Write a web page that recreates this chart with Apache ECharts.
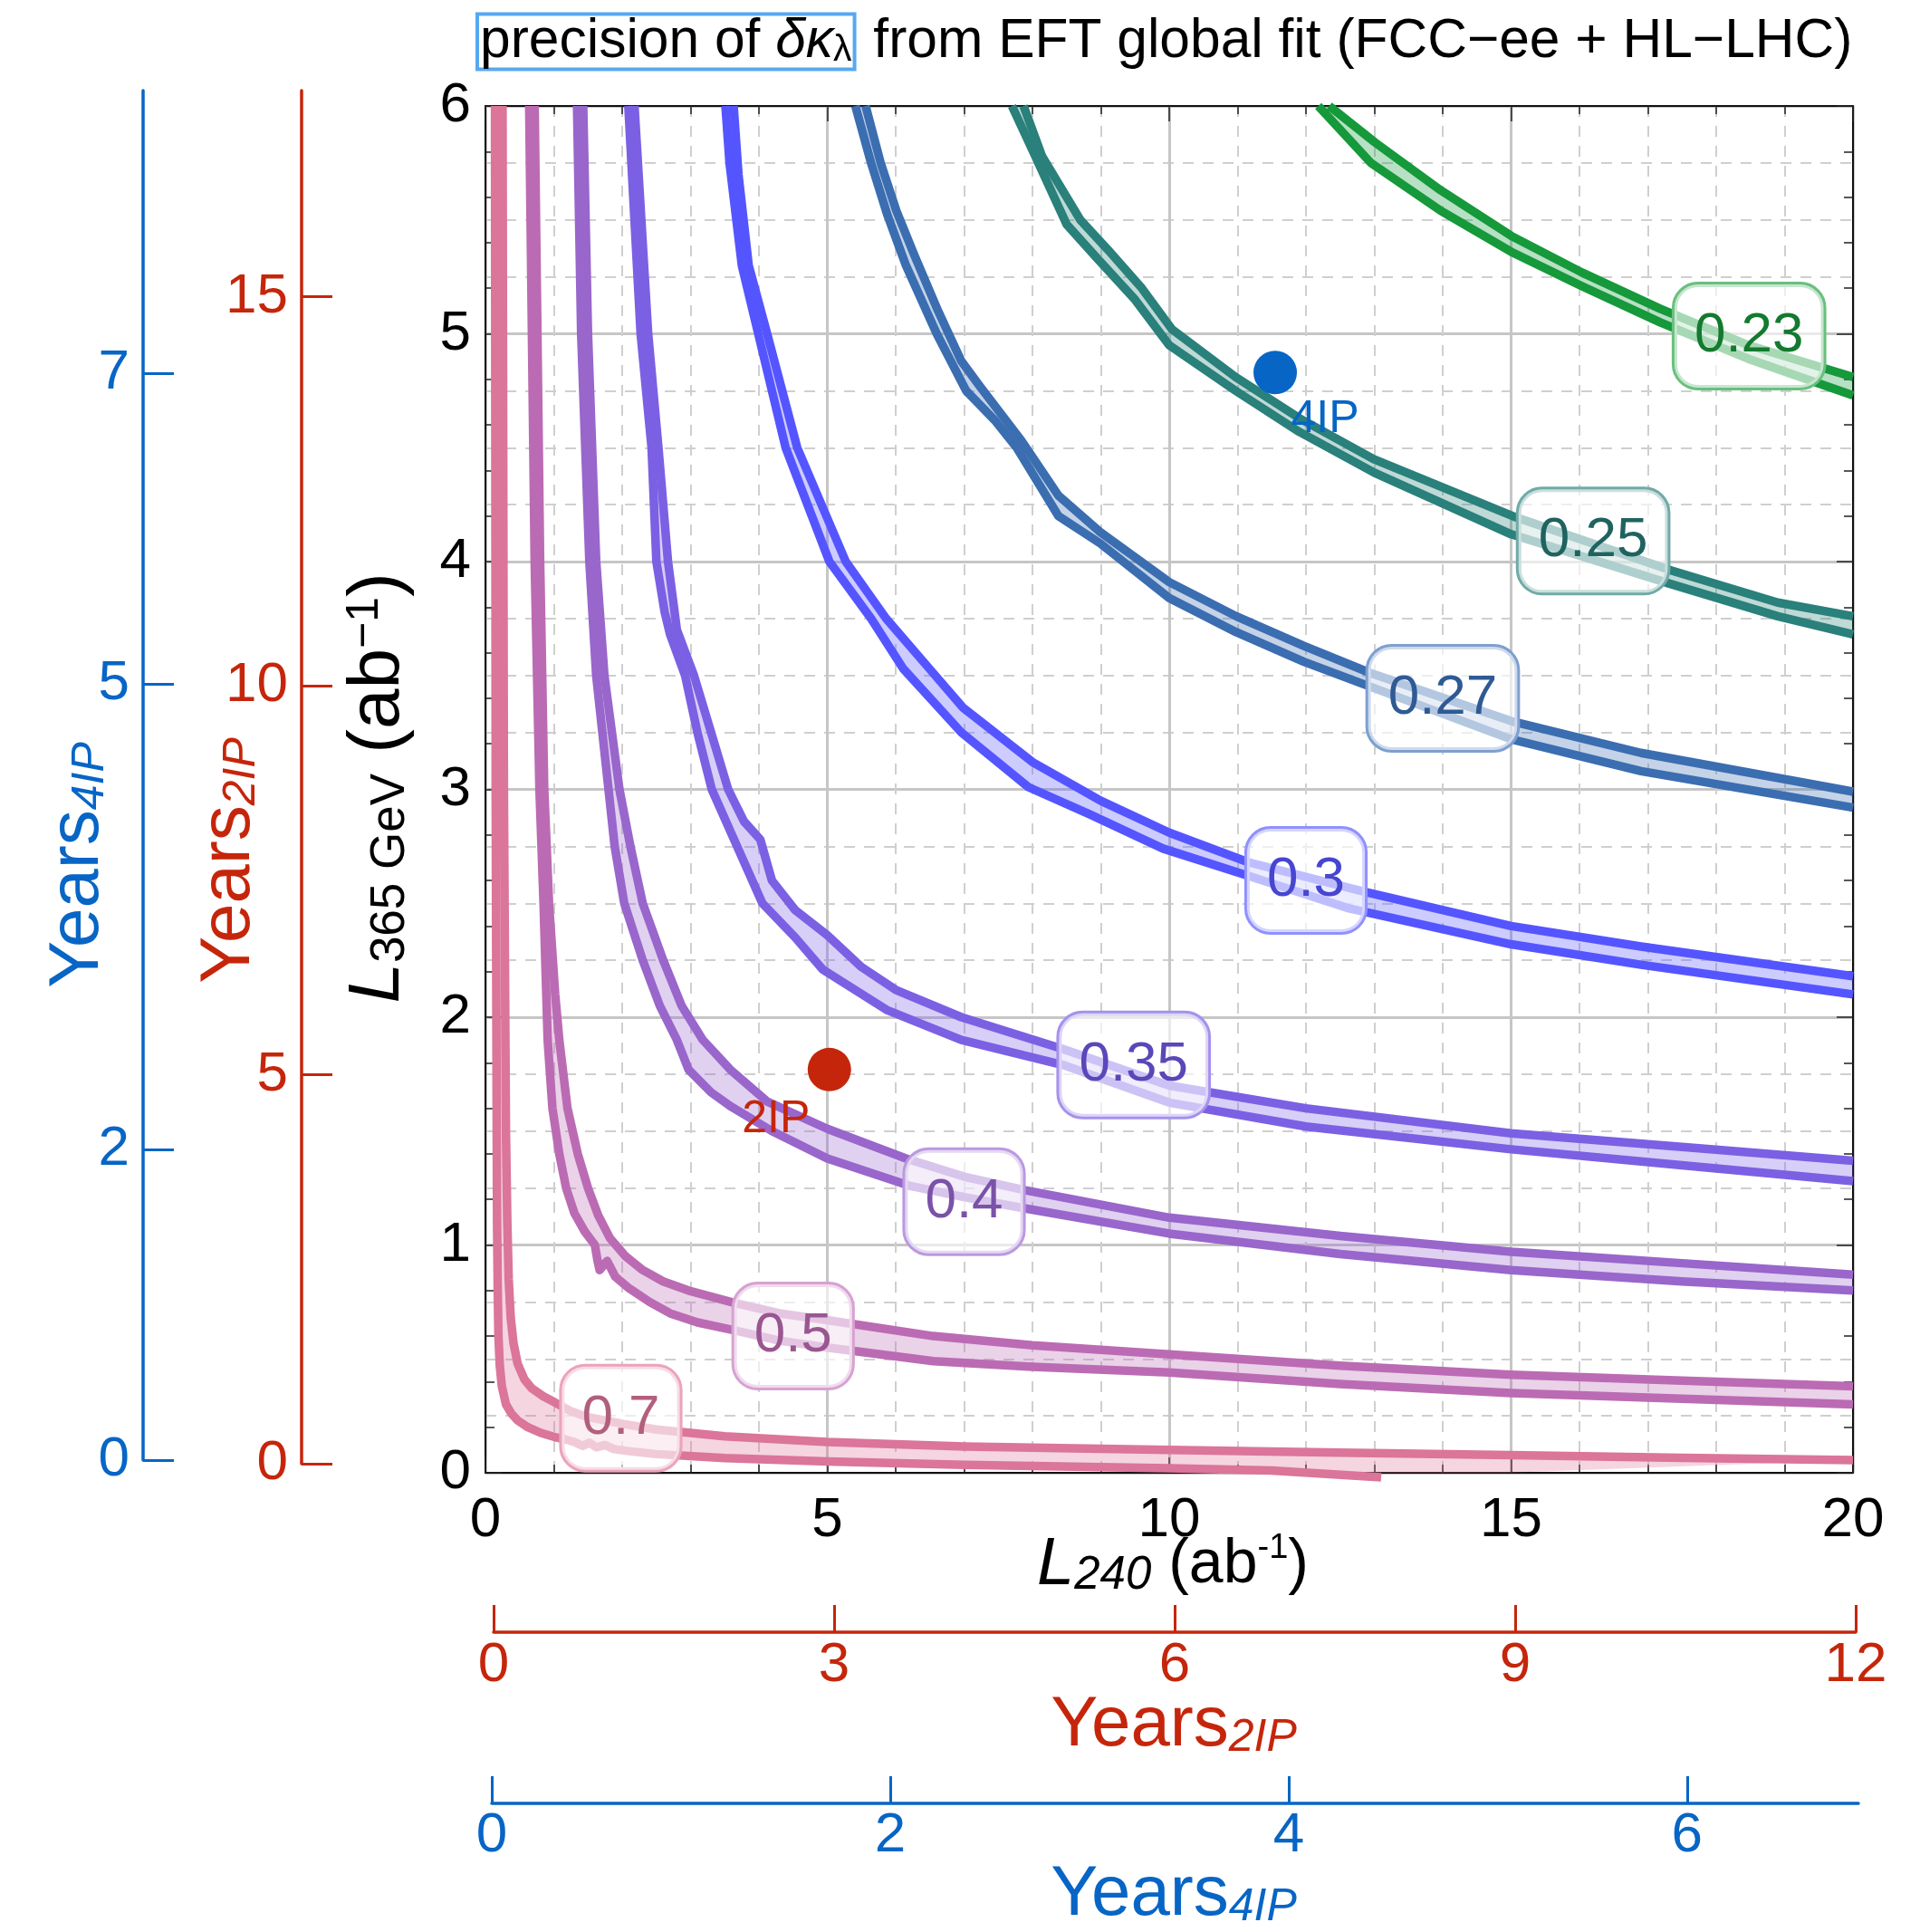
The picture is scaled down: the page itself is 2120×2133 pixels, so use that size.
<!DOCTYPE html>
<html>
<head>
<meta charset="utf-8">
<script src="https://cdn.jsdelivr.net/npm/echarts@6/dist/echarts.min.js"></script>
<style>
  html, body { margin: 0; padding: 0; background: #ffffff; }
  #chart { width: 2120px; height: 2133px; }
</style>
</head>
<body>
<div id="chart"></div>
<script>
// ---------------------------------------------------------------------------
// Data: iso-precision bands of delta kappa_lambda in the (L240, L365) plane.
// Every band has an upper/right edge and a lower/left edge, points are
// [L240 (ab^-1), L365 (ab^-1)].
// ---------------------------------------------------------------------------
const contourLevels = ['0.7', '0.5', '0.4', '0.35', '0.3', '0.27', '0.25', '0.23'];

const contour070Upper = [[0.25,6.0],[0.26,4.5],[0.27,3.0],[0.29,2.0],[0.30,1.5],[0.32,1.1],[0.34,0.85],[0.37,0.68],[0.41,0.57],[0.47,0.48],[0.57,0.41],[0.68,0.37],[0.85,0.335],[1.01,0.31],[1.25,0.27],[1.49,0.245],[2.0,0.215],[2.5,0.19],[3.5,0.16],[5.0,0.135],[7.0,0.115],[10.0,0.10],[12.5,0.088],[15.0,0.078],[17.5,0.066],[20.0,0.056]];
const contour070Lower = [[0.14,6.0],[0.145,4.5],[0.15,3.0],[0.16,2.0],[0.165,1.5],[0.17,1.1],[0.18,0.8],[0.19,0.6],[0.21,0.47],[0.24,0.38],[0.30,0.30],[0.38,0.26],[0.47,0.23],[0.62,0.20],[0.81,0.175],[1.0,0.158],[1.15,0.148],[1.3,0.135],[1.42,0.118],[1.52,0.132],[1.62,0.112],[1.75,0.122],[1.88,0.104],[2.1,0.095],[2.5,0.082],[3.5,0.065],[5.0,0.05],[7.0,0.035],[10.0,0.02],[11.5,0.01],[13.1,-0.02]];

const contour050Upper = [[0.72,6.0],[0.76,5.0],[0.80,4.0],[0.86,3.0],[0.93,2.5],[1.02,2.1],[1.08,1.9],[1.2,1.6],[1.35,1.4],[1.5,1.25],[1.65,1.13],[1.82,1.03],[2.05,0.95],[2.3,0.89],[2.6,0.84],[2.97,0.80],[3.65,0.745],[4.3,0.70],[5.0,0.67],[6.55,0.60],[8.0,0.56],[10.0,0.52],[12.5,0.47],[15.0,0.43],[17.5,0.405],[20.0,0.38]];
const contour050Lower = [[0.64,6.0],[0.68,5.0],[0.72,4.0],[0.79,3.0],[0.85,2.5],[0.88,2.2],[0.91,1.9],[0.98,1.6],[1.08,1.4],[1.18,1.25],[1.30,1.14],[1.45,1.06],[1.60,1.0],[1.64,0.93],[1.67,0.89],[1.78,0.93],[1.90,0.86],[2.1,0.81],[2.4,0.75],[2.7,0.70],[3.1,0.66],[3.65,0.625],[4.3,0.58],[5.0,0.55],[6.55,0.49],[8.0,0.465],[10.0,0.44],[12.5,0.39],[15.0,0.35],[17.5,0.325],[20.0,0.30]];

const contour040Upper = [[1.43,6.0],[1.50,5.0],[1.62,4.0],[1.74,3.5],[1.96,3.0],[2.12,2.75],[2.30,2.5],[2.60,2.25],[2.87,2.05],[3.18,1.90],[3.58,1.77],[4.12,1.63],[5.0,1.51],[6.15,1.38],[7.0,1.30],[7.9,1.24],[10.0,1.12],[12.5,1.04],[15.0,0.97],[17.5,0.92],[20.0,0.87]];
const contour040Lower = [[1.34,6.0],[1.40,5.0],[1.52,4.0],[1.62,3.5],[1.80,3.0],[1.89,2.75],[2.03,2.5],[2.30,2.25],[2.55,2.05],[2.80,1.90],[2.97,1.77],[3.3,1.67],[3.58,1.61],[4.19,1.50],[5.0,1.38],[6.2,1.26],[7.0,1.21],[7.9,1.16],[10.0,1.05],[12.5,0.96],[15.0,0.89],[17.5,0.84],[20.0,0.80]];

const contour035Upper = [[2.18,6.0],[2.28,5.5],[2.38,5.0],[2.53,4.5],[2.67,4.0],[2.80,3.7],[3.05,3.5],[3.30,3.25],[3.55,3.0],[3.78,2.86],[4.02,2.78],[4.19,2.60],[4.53,2.47],[5.0,2.36],[5.5,2.22],[6.0,2.12],[6.96,2.0],[8.45,1.86],[10.0,1.70],[12.0,1.60],[15.0,1.49],[17.5,1.43],[20.0,1.37]];
const contour035Lower = [[2.09,6.0],[2.18,5.5],[2.27,5.0],[2.43,4.5],[2.50,4.0],[2.62,3.78],[2.70,3.68],[2.92,3.5],[3.10,3.25],[3.31,3.0],[3.68,2.75],[4.05,2.50],[4.53,2.35],[4.93,2.21],[5.88,2.03],[6.96,1.90],[8.45,1.79],[10.0,1.625],[12.0,1.52],[15.0,1.42],[17.5,1.35],[20.0,1.28]];

const contour030Upper = [[3.63,6.0],[3.70,5.7],[3.85,5.3],[4.12,5.0],[4.56,4.5],[5.27,4.0],[5.86,3.75],[6.55,3.51],[6.98,3.36],[8.0,3.12],[9.0,2.95],[10.0,2.81],[11.16,2.68],[12.86,2.55],[15.0,2.40],[16.9,2.31],[20.0,2.18]];
const contour030Lower = [[3.51,6.0],[3.57,5.75],[3.75,5.3],[3.99,5.0],[4.39,4.5],[5.03,4.0],[5.64,3.75],[6.11,3.53],[6.96,3.25],[7.94,3.01],[8.84,2.89],[9.91,2.74],[11.16,2.62],[12.6,2.48],[15.0,2.32],[16.9,2.23],[20.0,2.10]];

const contour027Upper = [[5.56,6.0],[5.78,5.75],[6.01,5.54],[6.28,5.34],[6.62,5.1],[6.96,4.88],[7.23,4.77],[7.84,4.53],[8.38,4.29],[8.99,4.13],[10.0,3.91],[10.98,3.76],[11.97,3.63],[12.95,3.51],[15.0,3.30],[16.9,3.16],[20.0,2.99]];
const contour027Lower = [[5.41,6.0],[5.64,5.75],[5.88,5.52],[6.15,5.30],[6.6,5.0],[7.03,4.75],[7.45,4.62],[7.77,4.50],[8.38,4.20],[8.99,4.08],[10.0,3.84],[10.98,3.69],[11.97,3.56],[12.95,3.45],[15.0,3.22],[16.9,3.08],[20.0,2.92]];

const contour025Upper = [[7.87,6.0],[8.14,5.78],[8.70,5.50],[9.10,5.37],[9.60,5.20],[10.04,5.02],[10.97,4.81],[11.9,4.63],[12.99,4.45],[15.02,4.20],[17.35,3.96],[18.9,3.82],[20.0,3.76]];
const contour025Lower = [[7.70,6.0],[8.04,5.78],[8.50,5.48],[8.95,5.33],[9.50,5.15],[10.0,4.95],[10.97,4.75],[11.9,4.57],[13.0,4.39],[15.0,4.12],[17.35,3.90],[18.9,3.76],[20.0,3.68]];

const contour023Upper = [[12.34,6.0],[13.01,5.84],[13.97,5.63],[15.0,5.43],[16.03,5.27],[17.18,5.11],[18.47,4.95],[20.0,4.81]];
const contour023Lower = [[12.18,6.0],[12.95,5.75],[13.97,5.54],[15.0,5.36],[16.03,5.21],[17.18,5.05],[18.47,4.89],[20.0,4.73]];

// Run scenarios: [L240, L365]
const scenario2IP = [5.03, 1.77];
const scenario4IP = [11.55, 4.83];

// Tick labels
const l240Ticks = [0, 5, 10, 15, 20];
const l365Ticks = [0, 1, 2, 3, 4, 5, 6];
const years2IPLeftTicks = [0, 5, 10, 15];
const years4IPLeftTicks = [0, 2, 5, 7];
const years2IPBottomTicks = [0, 3, 6, 9, 12];
const years4IPBottomTicks = [0, 2, 4, 6];

// ---------------------------------------------------------------------------
// Styling
// ---------------------------------------------------------------------------
const FONT = '"Liberation Sans", Arial, Helvetica, sans-serif';
const RED = '#c5260b';
const BLUE = '#0765c5';
const GRID_SOLID = '#c6c6c6';
const GRID_DASH = '#cfcfcf';
const TICK_COLOR = '#222222';
const EDGE_WIDTH = 9.5;

const bands = [
  { upper: contour070Upper, lower: contour070Lower },
  { upper: contour050Upper, lower: contour050Lower },
  { upper: contour040Upper, lower: contour040Lower },
  { upper: contour035Upper, lower: contour035Lower },
  { upper: contour030Upper, lower: contour030Lower },
  { upper: contour027Upper, lower: contour027Lower },
  { upper: contour025Upper, lower: contour025Lower },
  { upper: contour023Upper, lower: contour023Lower }
];
const lineColors = ['#db7599', '#bb6bb3', '#9966cc', '#7b60e4', '#5555ff', '#3b6db1', '#2a807b', '#15993a'];
const textColors = ['#b25f7e', '#9a5690', '#7a52a8', '#5a47b8', '#4646d0', '#2f5a94', '#1f6360', '#137a2e'];
const boxColors  = ['#eba3bd', '#d7a2d1', '#bb99e0', '#a592ec', '#9090ff', '#7f9fcf', '#71aaa7', '#6abf7f'];
// where each level tag sits along its band (axis units)
const levelTagAt = [[1.98,0.24],[4.5,0.60],[7.0,1.19],[9.48,1.79],[12.0,2.60],[14.0,3.40],[16.2,4.09],[18.48,4.99]];

const series = [];

bands.forEach(function (band, i) {
  // translucent fill between the two edges
  series.push({
    type: 'custom',
    xAxisIndex: 0, yAxisIndex: 0,
    z: 2, silent: true, clip: true,
    data: [0],
    renderItem: function (params, api) {
      const pts = band.upper.concat(band.lower.slice().reverse()).map(function (p) { return api.coord(p); });
      return { type: 'polygon', shape: { points: pts }, style: { fill: lineColors[i], opacity: 0.3 } };
    }
  });
  // the two edges
  [band.upper, band.lower].forEach(function (edge) {
    series.push({
      type: 'line',
      xAxisIndex: 0, yAxisIndex: 0,
      z: 3, silent: true, clip: false,
      data: edge,
      symbol: 'none', showSymbol: false, smooth: false,
      lineStyle: { color: lineColors[i], width: EDGE_WIDTH, cap: 'butt', join: 'round', opacity: 1 }
    });
  });
});

// level tags
series.push({
  type: 'scatter',
  xAxisIndex: 0, yAxisIndex: 0,
  z: 6, silent: true,
  symbolSize: 0,
  itemStyle: { color: 'rgba(0,0,0,0)', opacity: 1 },
  data: contourLevels.map(function (lv, i) {
    return {
      value: levelTagAt[i],
      label: {
        show: true, position: 'inside', formatter: lv,
        fontFamily: FONT, fontSize: 62, color: textColors[i],
        backgroundColor: 'rgba(255,255,255,0.62)',
        borderColor: boxColors[i], borderWidth: 3, borderRadius: 26,
        padding: [27, 22, 25, 22]
      }
    };
  })
});

// run scenarios
series.push({
  type: 'scatter',
  xAxisIndex: 0, yAxisIndex: 0,
  z: 8, silent: true,
  symbolSize: 48,
  itemStyle: { opacity: 1 },
  data: [
    { value: scenario2IP, itemStyle: { color: RED, opacity: 1 },
      label: { show: true, formatter: '2IP', position: 'inside', offset: [-59, 55], color: RED, fontSize: 50, fontFamily: FONT } },
    { value: scenario4IP, itemStyle: { color: BLUE, opacity: 1 },
      label: { show: true, formatter: '4IP', position: 'inside', offset: [55, 52], color: BLUE, fontSize: 50, fontFamily: FONT } }
  ]
});

// ---------------------------------------------------------------------------
// Axes
// ---------------------------------------------------------------------------
function hiddenAxis(gridIndex) {
  return { type: 'value', gridIndex: gridIndex, show: false, min: 0, max: 1 };
}
const labelBase = { fontFamily: FONT, fontSize: 62, color: '#000' };

const xAxis = [
  { // main L240 axis (bottom)
    type: 'value', gridIndex: 0, position: 'bottom', min: 0, max: 20, interval: 5,
    axisLine: { show: true, onZero: false, lineStyle: { color: '#111', width: 2 } },
    axisTick: { show: true, inside: true, length: 17, lineStyle: { color: TICK_COLOR, width: 1.5 } },
    minorTick: { show: true, splitNumber: 5, length: 9, lineStyle: { color: TICK_COLOR, width: 1.5 } },
    axisLabel: Object.assign({ margin: 22, customValues: l240Ticks }, labelBase),
    splitLine: { show: true, lineStyle: { color: GRID_SOLID, width: 3 } },
    minorSplitLine: { show: true, lineStyle: { color: GRID_DASH, width: 2, type: [12, 10] } }
  },
  { // frame top
    type: 'value', gridIndex: 1, position: 'top', min: 0, max: 20, interval: 5,
    axisLine: { show: true, onZero: false, lineStyle: { color: '#111', width: 2 } },
    axisTick: { show: true, inside: true, length: 17, lineStyle: { color: TICK_COLOR, width: 1.5 } },
    minorTick: { show: true, splitNumber: 5, length: 9, lineStyle: { color: TICK_COLOR, width: 1.5 } },
    axisLabel: { show: false }, splitLine: { show: false }
  },
  hiddenAxis(2),
  hiddenAxis(3),
  { // Years 2IP (bottom)
    type: 'value', gridIndex: 4, position: 'bottom', min: 0, max: 12,
    axisLine: { show: true, onZero: false, lineStyle: { color: RED, width: 3.5 } },
    axisTick: { show: true, inside: true, length: 30, customValues: years2IPBottomTicks, lineStyle: { color: RED, width: 3 } },
    axisLabel: { margin: 6, customValues: years2IPBottomTicks, fontFamily: FONT, fontSize: 62, color: RED },
    splitLine: { show: false }
  },
  { // Years 4IP (bottom)
    type: 'value', gridIndex: 5, position: 'bottom', min: 0, max: 6.86,
    axisLine: { show: true, onZero: false, lineStyle: { color: BLUE, width: 3.5 } },
    axisTick: { show: true, inside: true, length: 30, customValues: years4IPBottomTicks, lineStyle: { color: BLUE, width: 3 } },
    axisLabel: { margin: 5, customValues: years4IPBottomTicks, fontFamily: FONT, fontSize: 62, color: BLUE },
    splitLine: { show: false }
  }
];

const yAxis = [
  { // main L365 axis (left): labels and grid
    type: 'value', gridIndex: 0, position: 'left', min: 0, max: 6, interval: 1,
    axisLine: { show: true, onZero: false, lineStyle: { color: '#111', width: 2 } },
    axisTick: { show: false },
    minorTick: { show: false, splitNumber: 4 },
    axisLabel: Object.assign({ margin: 16, customValues: l365Ticks }, labelBase),
    splitLine: { show: true, lineStyle: { color: GRID_SOLID, width: 3 } },
    minorSplitLine: { show: true, lineStyle: { color: GRID_DASH, width: 2, type: [12, 10] } }
  },
  { // frame left ticks (0.2 steps)
    type: 'value', gridIndex: 1, position: 'left', min: 0, max: 6, interval: 1,
    axisLine: { show: false, onZero: false },
    axisTick: { show: true, inside: true, length: 18, lineStyle: { color: TICK_COLOR, width: 1.5 } },
    minorTick: { show: true, splitNumber: 5, length: 10, lineStyle: { color: TICK_COLOR, width: 1.5 } },
    axisLabel: { show: false }, splitLine: { show: false }
  },
  { // frame right
    type: 'value', gridIndex: 1, position: 'right', min: 0, max: 6, interval: 1,
    axisLine: { show: true, onZero: false, lineStyle: { color: '#111', width: 2 } },
    axisTick: { show: true, inside: true, length: 18, lineStyle: { color: TICK_COLOR, width: 1.5 } },
    minorTick: { show: true, splitNumber: 5, length: 10, lineStyle: { color: TICK_COLOR, width: 1.5 } },
    axisLabel: { show: false }, splitLine: { show: false }
  },
  { // Years 2IP (left)
    type: 'value', gridIndex: 2, position: 'left', min: 0, max: 17.65,
    axisLine: { show: true, onZero: false, lineStyle: { color: RED, width: 3.5 } },
    axisTick: { show: true, inside: true, length: 34, customValues: years2IPLeftTicks, lineStyle: { color: RED, width: 3 } },
    axisLabel: { margin: 15, customValues: years2IPLeftTicks, fontFamily: FONT, fontSize: 62, color: RED },
    splitLine: { show: false }
  },
  { // Years 4IP (left)
    type: 'value', gridIndex: 3, position: 'left', min: 0, max: 8.82,
    axisLine: { show: true, onZero: false, lineStyle: { color: BLUE, width: 3.5 } },
    axisTick: { show: true, inside: true, length: 34, customValues: years4IPLeftTicks, lineStyle: { color: BLUE, width: 3 } },
    axisLabel: { margin: 15, customValues: years4IPLeftTicks, fontFamily: FONT, fontSize: 62, color: BLUE },
    splitLine: { show: false }
  },
  hiddenAxis(4),
  hiddenAxis(5)
];

const PLOT = { left: 536, top: 117, width: 1510, height: 1509 };
const grid = [
  Object.assign({ outerBoundsMode: 'none' }, PLOT),
  Object.assign({ outerBoundsMode: 'none' }, PLOT),
  { left: 333, top: 100, width: 40, height: 1516, outerBoundsMode: 'none' },
  { left: 158, top: 100, width: 40, height: 1512, outerBoundsMode: 'none' },
  { left: 545, top: 1700, width: 1504, height: 102, outerBoundsMode: 'none' },
  { left: 543, top: 1890, width: 1509, height: 101, outerBoundsMode: 'none' }
];

// ---------------------------------------------------------------------------
// Titles
// ---------------------------------------------------------------------------
function measure(str, size, style) {
  const ctx = measure.ctx || (measure.ctx = document.createElement('canvas').getContext('2d'));
  ctx.font = (style ? style + ' ' : '') + size + 'px ' + FONT;
  return ctx.measureText(str).width;
}
const TITLE_SIZE = 60.5, TITLE_SUB = 41;
const titleLeft = 527, boxPadX = 3;
const boxedWidth = measure('precision of ', TITLE_SIZE) + measure('δκ', TITLE_SIZE, 'italic') + measure('λ', TITLE_SUB);
const restLeft = titleLeft + boxedWidth + 2 * boxPadX + 4 + measure(' ', TITLE_SIZE);

const graphic = [
  { type: 'text', x: titleLeft, y: 46, z: 20,
    style: {
      text: '{n|precision of }{i|δκ}{s|λ}',
      align: 'left', verticalAlign: 'middle',
      padding: [0, boxPadX, 0, boxPadX], borderColor: '#58a8f0', borderWidth: 4,
      rich: {
        n: { fontFamily: FONT, fontSize: TITLE_SIZE, fill: '#000' },
        i: { fontFamily: FONT, fontSize: TITLE_SIZE, fontStyle: 'italic', fill: '#000' },
        s: { fontFamily: FONT, fontSize: TITLE_SUB, fill: '#000', verticalAlign: 'bottom', lineHeight: 30 }
      }
    } },
  { type: 'text', x: restLeft, y: 46, z: 20,
    style: { text: 'from EFT global fit (FCC−ee + HL−LHC)', align: 'left', verticalAlign: 'middle',
             fontFamily: FONT, fontSize: TITLE_SIZE, fill: '#000' } },

  // vertical axis titles
  { type: 'text', x: 86, y: 955, rotation: Math.PI / 2, z: 20,
    style: { text: '{n|Years}{s|4IP}', align: 'center', verticalAlign: 'middle',
      rich: { n: { fontFamily: FONT, fontSize: 78, fill: BLUE },
              s: { fontFamily: FONT, fontSize: 50, fontStyle: 'italic', fill: BLUE, verticalAlign: 'bottom', lineHeight: 44 } } } },
  { type: 'text', x: 253, y: 950, rotation: Math.PI / 2, z: 20,
    style: { text: '{n|Years}{s|2IP}', align: 'center', verticalAlign: 'middle',
      rich: { n: { fontFamily: FONT, fontSize: 78, fill: RED },
              s: { fontFamily: FONT, fontSize: 50, fontStyle: 'italic', fill: RED, verticalAlign: 'bottom', lineHeight: 44 } } } },
  { type: 'text', x: 418, y: 870, rotation: Math.PI / 2, z: 20,
    style: { text: '{L|L}{s|365 GeV}{n| (ab}{p|−1}{n|)}', align: 'center', verticalAlign: 'middle',
      rich: { L: { fontFamily: FONT, fontSize: 80, fontStyle: 'italic', fill: '#000' },
              s: { fontFamily: FONT, fontSize: 53, fill: '#000', verticalAlign: 'bottom', lineHeight: 40 },
              n: { fontFamily: FONT, fontSize: 80, fill: '#000' },
              p: { fontFamily: FONT, fontSize: 50, fill: '#000', verticalAlign: 'top', lineHeight: 40 } } } },

  // horizontal axis titles
  { type: 'text', x: 1295, y: 1728, z: 20,
    style: { text: '{L|L}{s|240}{n| (ab}{p|-1}{n|)}', align: 'center', verticalAlign: 'middle',
      rich: { L: { fontFamily: FONT, fontSize: 74, fontStyle: 'italic', fill: '#000' },
              s: { fontFamily: FONT, fontSize: 51, fontStyle: 'italic', fill: '#000', verticalAlign: 'bottom', lineHeight: 42 },
              n: { fontFamily: FONT, fontSize: 68, fill: '#000' },
              p: { fontFamily: FONT, fontSize: 38, fill: '#000', verticalAlign: 'top', lineHeight: 38 } } } },
  { type: 'text', x: 1296, y: 1905, z: 20,
    style: { text: '{n|Years}{s|2IP}', align: 'center', verticalAlign: 'middle',
      rich: { n: { fontFamily: FONT, fontSize: 78, fill: RED },
              s: { fontFamily: FONT, fontSize: 50, fontStyle: 'italic', fill: RED, verticalAlign: 'bottom', lineHeight: 44 } } } },
  { type: 'text', x: 1296, y: 2092, z: 20,
    style: { text: '{n|Years}{s|4IP}', align: 'center', verticalAlign: 'middle',
      rich: { n: { fontFamily: FONT, fontSize: 78, fill: BLUE },
              s: { fontFamily: FONT, fontSize: 50, fontStyle: 'italic', fill: BLUE, verticalAlign: 'bottom', lineHeight: 44 } } } }
];

const chart = echarts.init(document.getElementById('chart'), null, { renderer: 'canvas', width: 2120, height: 2133 });
chart.setOption({
  backgroundColor: '#ffffff',
  animation: false,
  textStyle: { fontFamily: FONT },
  grid: grid,
  xAxis: xAxis,
  yAxis: yAxis,
  series: series,
  graphic: graphic
});
</script>
</body>
</html>
